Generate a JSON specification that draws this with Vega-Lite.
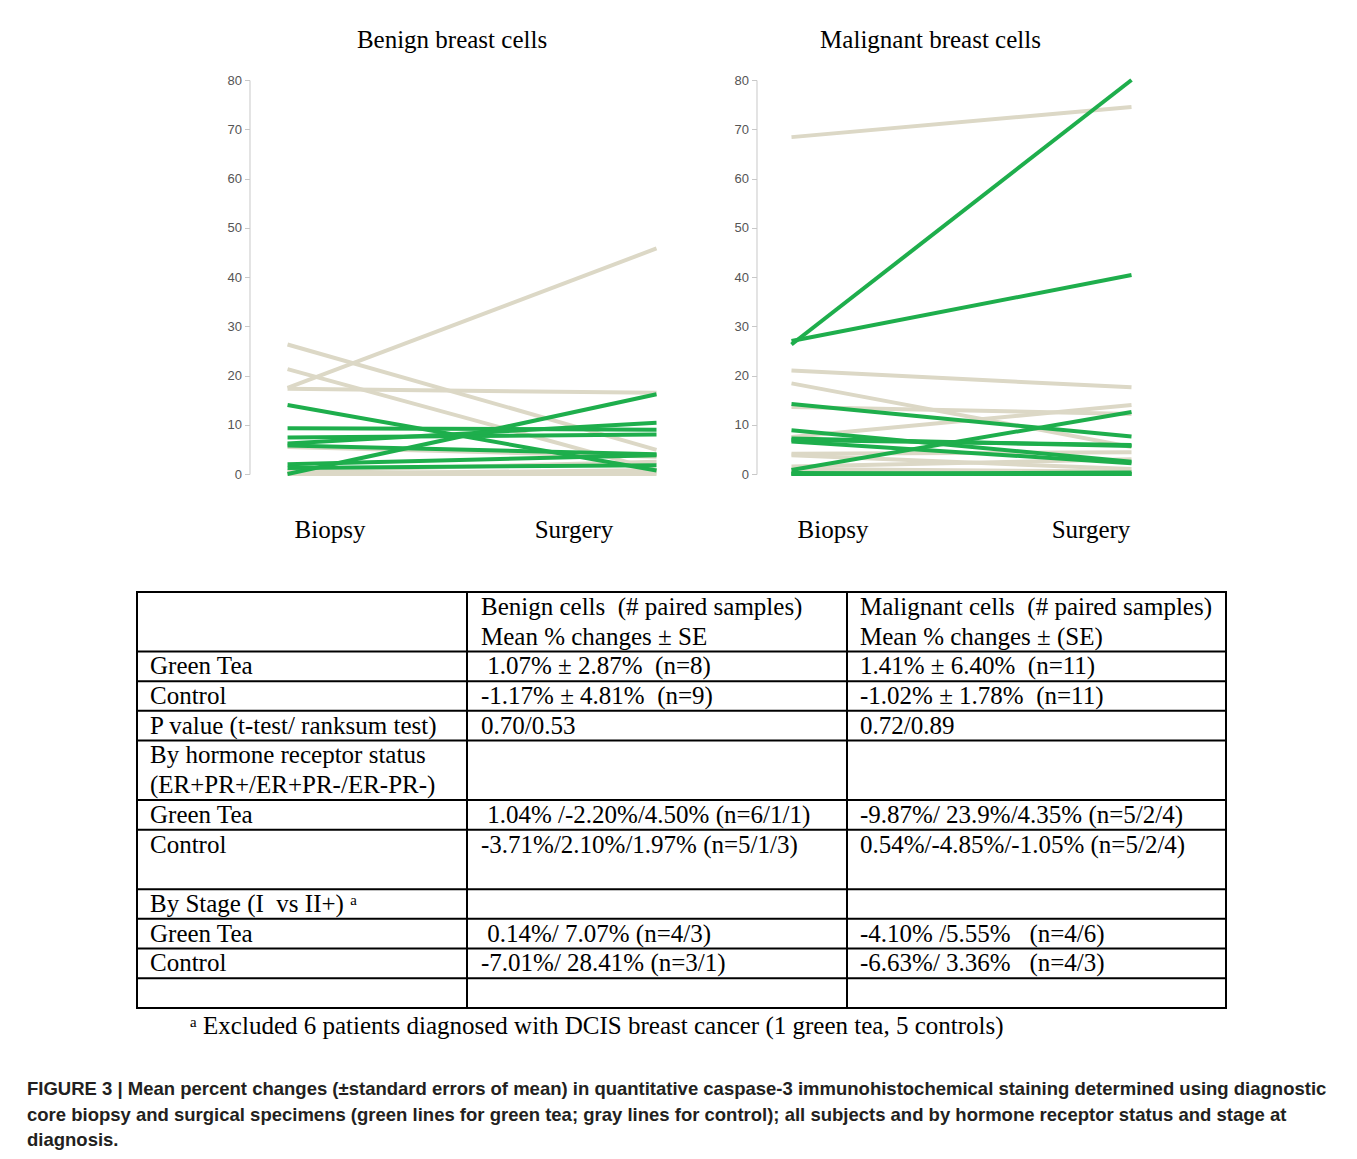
{
  "$schema": "https://vega.github.io/schema/vega-lite/v6.json",
  "padding": {"left": 27, "top": 28, "right": 5, "bottom": 0},
  "background": "white",
  "config": {"view": {"stroke": null}, "font": "Liberation Serif"},
  "datasets": {
    "benign": [
      {"id": "bc1", "group": "Control", "stage": "Biopsy", "value": 17.5}, {"id": "bc1", "group": "Control", "stage": "Surgery", "value": 45.8},
      {"id": "bc2", "group": "Control", "stage": "Biopsy", "value": 26.3}, {"id": "bc2", "group": "Control", "stage": "Surgery", "value": 4.9},
      {"id": "bc3", "group": "Control", "stage": "Biopsy", "value": 21.3}, {"id": "bc3", "group": "Control", "stage": "Surgery", "value": 0.8},
      {"id": "bc4", "group": "Control", "stage": "Biopsy", "value": 17.3}, {"id": "bc4", "group": "Control", "stage": "Surgery", "value": 16.5},
      {"id": "bc5", "group": "Control", "stage": "Biopsy", "value": 5.5}, {"id": "bc5", "group": "Control", "stage": "Surgery", "value": 3.5},
      {"id": "bc6", "group": "Control", "stage": "Biopsy", "value": 0.6}, {"id": "bc6", "group": "Control", "stage": "Surgery", "value": 2.5},
      {"id": "bc7", "group": "Control", "stage": "Biopsy", "value": 0.3}, {"id": "bc7", "group": "Control", "stage": "Surgery", "value": 0.3},
      {"id": "bc8", "group": "Control", "stage": "Biopsy", "value": 0.0}, {"id": "bc8", "group": "Control", "stage": "Surgery", "value": 0.8},
      {"id": "bc9", "group": "Control", "stage": "Biopsy", "value": 0.0}, {"id": "bc9", "group": "Control", "stage": "Surgery", "value": 0.0},
      {"id": "bg1", "group": "Green tea", "stage": "Biopsy", "value": 14.0}, {"id": "bg1", "group": "Green tea", "stage": "Surgery", "value": 0.7},
      {"id": "bg2", "group": "Green tea", "stage": "Biopsy", "value": 0.0}, {"id": "bg2", "group": "Green tea", "stage": "Surgery", "value": 16.2},
      {"id": "bg3", "group": "Green tea", "stage": "Biopsy", "value": 9.3}, {"id": "bg3", "group": "Green tea", "stage": "Surgery", "value": 9.0},
      {"id": "bg4", "group": "Green tea", "stage": "Biopsy", "value": 7.4}, {"id": "bg4", "group": "Green tea", "stage": "Surgery", "value": 8.0},
      {"id": "bg5", "group": "Green tea", "stage": "Biopsy", "value": 6.2}, {"id": "bg5", "group": "Green tea", "stage": "Surgery", "value": 10.4},
      {"id": "bg6", "group": "Green tea", "stage": "Biopsy", "value": 5.8}, {"id": "bg6", "group": "Green tea", "stage": "Surgery", "value": 4.0},
      {"id": "bg7", "group": "Green tea", "stage": "Biopsy", "value": 2.0}, {"id": "bg7", "group": "Green tea", "stage": "Surgery", "value": 3.8},
      {"id": "bg8", "group": "Green tea", "stage": "Biopsy", "value": 1.2}, {"id": "bg8", "group": "Green tea", "stage": "Surgery", "value": 1.8}
    ],
    "malignant": [
      {"id": "mc1", "group": "Control", "stage": "Biopsy", "value": 68.4}, {"id": "mc1", "group": "Control", "stage": "Surgery", "value": 74.5},
      {"id": "mc2", "group": "Control", "stage": "Biopsy", "value": 21.0}, {"id": "mc2", "group": "Control", "stage": "Surgery", "value": 17.6},
      {"id": "mc3", "group": "Control", "stage": "Biopsy", "value": 18.4}, {"id": "mc3", "group": "Control", "stage": "Surgery", "value": 5.5},
      {"id": "mc4", "group": "Control", "stage": "Biopsy", "value": 13.6}, {"id": "mc4", "group": "Control", "stage": "Surgery", "value": 12.2},
      {"id": "mc5", "group": "Control", "stage": "Biopsy", "value": 7.5}, {"id": "mc5", "group": "Control", "stage": "Surgery", "value": 14.0},
      {"id": "mc6", "group": "Control", "stage": "Biopsy", "value": 4.1}, {"id": "mc6", "group": "Control", "stage": "Surgery", "value": 4.4},
      {"id": "mc7", "group": "Control", "stage": "Biopsy", "value": 3.8}, {"id": "mc7", "group": "Control", "stage": "Surgery", "value": 1.0},
      {"id": "mc8", "group": "Control", "stage": "Biopsy", "value": 1.5}, {"id": "mc8", "group": "Control", "stage": "Surgery", "value": 3.0},
      {"id": "mc9", "group": "Control", "stage": "Biopsy", "value": 1.0}, {"id": "mc9", "group": "Control", "stage": "Surgery", "value": 0.5},
      {"id": "mc10", "group": "Control", "stage": "Biopsy", "value": 0.5}, {"id": "mc10", "group": "Control", "stage": "Surgery", "value": 0.0},
      {"id": "mc11", "group": "Control", "stage": "Biopsy", "value": 0.0}, {"id": "mc11", "group": "Control", "stage": "Surgery", "value": 0.3},
      {"id": "mg1", "group": "Green tea", "stage": "Biopsy", "value": 26.3}, {"id": "mg1", "group": "Green tea", "stage": "Surgery", "value": 80.0},
      {"id": "mg2", "group": "Green tea", "stage": "Biopsy", "value": 27.0}, {"id": "mg2", "group": "Green tea", "stage": "Surgery", "value": 40.4},
      {"id": "mg3", "group": "Green tea", "stage": "Biopsy", "value": 14.2}, {"id": "mg3", "group": "Green tea", "stage": "Surgery", "value": 7.6},
      {"id": "mg4", "group": "Green tea", "stage": "Biopsy", "value": 0.8}, {"id": "mg4", "group": "Green tea", "stage": "Surgery", "value": 12.6},
      {"id": "mg5", "group": "Green tea", "stage": "Biopsy", "value": 8.9}, {"id": "mg5", "group": "Green tea", "stage": "Surgery", "value": 2.5},
      {"id": "mg6", "group": "Green tea", "stage": "Biopsy", "value": 7.2}, {"id": "mg6", "group": "Green tea", "stage": "Surgery", "value": 5.7},
      {"id": "mg7", "group": "Green tea", "stage": "Biopsy", "value": 6.9}, {"id": "mg7", "group": "Green tea", "stage": "Surgery", "value": 5.9},
      {"id": "mg8", "group": "Green tea", "stage": "Biopsy", "value": 6.6}, {"id": "mg8", "group": "Green tea", "stage": "Surgery", "value": 2.2},
      {"id": "mg9", "group": "Green tea", "stage": "Biopsy", "value": 0.0}, {"id": "mg9", "group": "Green tea", "stage": "Surgery", "value": 0.0},
      {"id": "mg10", "group": "Green tea", "stage": "Biopsy", "value": 0.2}, {"id": "mg10", "group": "Green tea", "stage": "Surgery", "value": 0.0},
      {"id": "mg11", "group": "Green tea", "stage": "Biopsy", "value": 0.0}, {"id": "mg11", "group": "Green tea", "stage": "Surgery", "value": 0.3}
    ],
    "cells": [
      {"col": "c1", "line": 2, "text": "Green Tea"},
      {"col": "c1", "line": 3, "text": "Control"},
      {"col": "c1", "line": 4, "text": "P value (t-test/ ranksum test)"},
      {"col": "c1", "line": 5, "text": "By hormone receptor status"},
      {"col": "c1", "line": 6, "text": "(ER+PR+/ER+PR-/ER-PR-)"},
      {"col": "c1", "line": 7, "text": "Green Tea"},
      {"col": "c1", "line": 8, "text": "Control"},
      {"col": "c1", "line": 10, "text": "By Stage (I\u00a0 vs II+)\u00a0ᵃ"},
      {"col": "c1", "line": 11, "text": "Green Tea"},
      {"col": "c1", "line": 12, "text": "Control"},
      {"col": "c2", "line": 0, "text": "Benign cells\u00a0 (# paired samples)"},
      {"col": "c2", "line": 1, "text": "Mean % changes ± SE"},
      {"col": "c2", "line": 2, "text": "\u200b\u00a01.07% ± 2.87%\u00a0 (n=8)"},
      {"col": "c2", "line": 3, "text": "-1.17% ± 4.81%\u00a0 (n=9)"},
      {"col": "c2", "line": 4, "text": "0.70/0.53"},
      {"col": "c2", "line": 7, "text": "\u200b\u00a01.04% /-2.20%/4.50% (n=6/1/1)"},
      {"col": "c2", "line": 8, "text": "-3.71%/2.10%/1.97% (n=5/1/3)"},
      {"col": "c2", "line": 11, "text": "\u200b\u00a00.14%/ 7.07% (n=4/3)"},
      {"col": "c2", "line": 12, "text": "-7.01%/ 28.41% (n=3/1)"},
      {"col": "c3", "line": 0, "text": "Malignant cells\u00a0 (# paired samples)"},
      {"col": "c3", "line": 1, "text": "Mean % changes ± (SE)"},
      {"col": "c3", "line": 2, "text": "1.41% ± 6.40%\u00a0 (n=11)"},
      {"col": "c3", "line": 3, "text": "-1.02% ± 1.78%\u00a0 (n=11)"},
      {"col": "c3", "line": 4, "text": "0.72/0.89"},
      {"col": "c3", "line": 7, "text": "-9.87%/ 23.9%/4.35% (n=5/2/4)"},
      {"col": "c3", "line": 8, "text": "0.54%/-4.85%/-1.05% (n=5/2/4)"},
      {"col": "c3", "line": 11, "text": "-4.10% /5.55%\u00a0\u00a0 (n=4/6)"},
      {"col": "c3", "line": 12, "text": "-6.63%/ 3.36%\u00a0\u00a0 (n=4/3)"}
    ],
    "edges": [{"edge": 2}, {"edge": 3}, {"edge": 4}, {"edge": 5}, {"edge": 7}, {"edge": 8}, {"edge": 10}, {"edge": 11}, {"edge": 12}, {"edge": 13}]
  },
  "title": {
    "text": [
      "FIGURE 3 | Mean percent changes (±standard errors of mean) in quantitative caspase-3 immunohistochemical staining determined using diagnostic",
      "core biopsy and surgical specimens (green lines for green tea; gray lines for control); all subjects and by hormone receptor status and stage at",
      "diagnosis."
    ],
    "orient": "bottom", "anchor": "start", "frame": "group", "dx": -110, "offset": 41,
    "font": "Liberation Sans, Arial, sans-serif",
    "fontSize": 18.5, "fontWeight": "bold", "lineHeight": 25.5, "color": "#231f20"
  },
  "center": true,
  "spacing": 49,
  "vconcat": [
    {
      "spacing": 68,
      "hconcat": [
        {
          "width": 439, "height": 394,
          "title": {"text": "Benign breast cells", "font": "Liberation Serif", "fontSize": 25, "fontWeight": "normal", "color": "black", "offset": 21, "dx": 7, "anchor": "middle"},
          "data": {"name": "benign"},
          "mark": {"type": "line", "strokeWidth": 4},
          "encoding": {
            "x": {"field": "stage", "type": "ordinal",
              "scale": {"type": "point", "domain": ["Biopsy", "Surgery"], "padding": 0.0949, "align": 0.886},
              "axis": {"title": null, "ticks": false, "domain": false, "labelAngle": 0, "labelFont": "Liberation Serif", "labelFontSize": 25, "labelColor": "black", "labelBaseline": "middle", "labelPadding": 55,
                "labelOffset": {"condition": {"test": "datum.value === 'Biopsy'", "value": 42}, "value": -83}}},
            "y": {"field": "value", "type": "quantitative", "scale": {"domain": [0, 80]},
              "axis": {"title": null, "offset": -24, "values": [0, 10, 20, 30, 40, 50, 60, 70, 80], "grid": false, "domainColor": "#c8c8c8", "tickColor": "#c8c8c8", "tickSize": 5, "labelFont": "Liberation Sans, sans-serif", "labelFontSize": 13, "labelColor": "#555555", "labelPadding": 3}},
            "color": {"field": "group", "type": "nominal", "scale": {"domain": ["Control", "Green tea"], "range": ["#DCD8C6", "#1EAE4C"]}, "legend": null},
            "detail": {"field": "id"}
          }
        },
        {
          "width": 380, "height": 394,
          "title": {"text": "Malignant breast cells", "font": "Liberation Serif", "fontSize": 25, "fontWeight": "normal", "color": "black", "offset": 21, "dx": -16, "dy": 2, "anchor": "middle"},
          "data": {"name": "malignant"},
          "mark": {"type": "line", "strokeWidth": 4},
          "encoding": {
            "x": {"field": "stage", "type": "ordinal",
              "scale": {"type": "point", "domain": ["Biopsy", "Surgery"], "padding": 0.0588, "align": 0.875},
              "axis": {"title": null, "ticks": false, "domain": false, "labelAngle": 0, "labelFont": "Liberation Serif", "labelFontSize": 25, "labelColor": "black", "labelBaseline": "middle", "labelPadding": 55,
                "labelOffset": {"condition": {"test": "datum.value === 'Biopsy'", "value": 41}, "value": -41}}},
            "y": {"field": "value", "type": "quantitative", "scale": {"domain": [0, 80]},
              "axis": {"title": null, "values": [0, 10, 20, 30, 40, 50, 60, 70, 80], "grid": false, "domainColor": "#c8c8c8", "tickColor": "#c8c8c8", "tickSize": 5, "labelFont": "Liberation Sans, sans-serif", "labelFontSize": 13, "labelColor": "#555555", "labelPadding": 3}},
            "color": {"field": "group", "type": "nominal", "scale": {"domain": ["Control", "Green tea"], "range": ["#DCD8C6", "#1EAE4C"]}, "legend": null},
            "detail": {"field": "id"}
          }
        }
      ]
    },
    {
      "spacing": 0,
      "bounds": "flush",
      "title": {"text": "ᵃ Excluded 6 patients diagnosed with DCIS breast cancer (1 green tea, 5 controls)", "orient": "bottom", "anchor": "start", "frame": "group", "dx": 53, "offset": 5, "font": "Liberation Serif", "fontSize": 25, "fontWeight": "normal", "color": "black"},
      "hconcat": [
        {
          "width": 330, "height": 416,
          "view": {"stroke": "black", "strokeWidth": 2},
          "layer": [
            {"data": {"name": "edges"}, "mark": {"type": "rule", "color": "black", "strokeWidth": 2},
             "encoding": {"y": {"field": "edge", "type": "quantitative", "scale": {"domain": [0, 14], "reverse": true}, "axis": null}}},
            {"data": {"name": "cells"}, "transform": [{"filter": "datum.col === 'c1'"}],
             "mark": {"type": "text", "align": "left", "baseline": "middle", "dx": 13, "font": "Liberation Serif", "fontSize": 25, "color": "black"},
             "encoding": {
               "x": {"datum": 0, "type": "quantitative", "scale": {"domain": [0, 1]}, "axis": null},
               "y": {"field": "line", "type": "quantitative", "scale": {"domain": [-0.5, 13.5], "reverse": true}, "axis": null},
               "text": {"field": "text"}}}
          ],
          "resolve": {"scale": {"y": "independent"}}
        },
        {
          "width": 380, "height": 416,
          "view": {"stroke": "black", "strokeWidth": 2},
          "layer": [
            {"data": {"name": "edges"}, "mark": {"type": "rule", "color": "black", "strokeWidth": 2},
             "encoding": {"y": {"field": "edge", "type": "quantitative", "scale": {"domain": [0, 14], "reverse": true}, "axis": null}}},
            {"data": {"name": "cells"}, "transform": [{"filter": "datum.col === 'c2'"}],
             "mark": {"type": "text", "align": "left", "baseline": "middle", "dx": 14, "font": "Liberation Serif", "fontSize": 25, "color": "black"},
             "encoding": {
               "x": {"datum": 0, "type": "quantitative", "scale": {"domain": [0, 1]}, "axis": null},
               "y": {"field": "line", "type": "quantitative", "scale": {"domain": [-0.5, 13.5], "reverse": true}, "axis": null},
               "text": {"field": "text"}}}
          ],
          "resolve": {"scale": {"y": "independent"}}
        },
        {
          "width": 379, "height": 416,
          "view": {"stroke": "black", "strokeWidth": 2},
          "layer": [
            {"data": {"name": "edges"}, "mark": {"type": "rule", "color": "black", "strokeWidth": 2},
             "encoding": {"y": {"field": "edge", "type": "quantitative", "scale": {"domain": [0, 14], "reverse": true}, "axis": null}}},
            {"data": {"name": "cells"}, "transform": [{"filter": "datum.col === 'c3'"}],
             "mark": {"type": "text", "align": "left", "baseline": "middle", "dx": 13, "font": "Liberation Serif", "fontSize": 25, "color": "black"},
             "encoding": {
               "x": {"datum": 0, "type": "quantitative", "scale": {"domain": [0, 1]}, "axis": null},
               "y": {"field": "line", "type": "quantitative", "scale": {"domain": [-0.5, 13.5], "reverse": true}, "axis": null},
               "text": {"field": "text"}}}
          ],
          "resolve": {"scale": {"y": "independent"}}
        }
      ]
    }
  ]
}
